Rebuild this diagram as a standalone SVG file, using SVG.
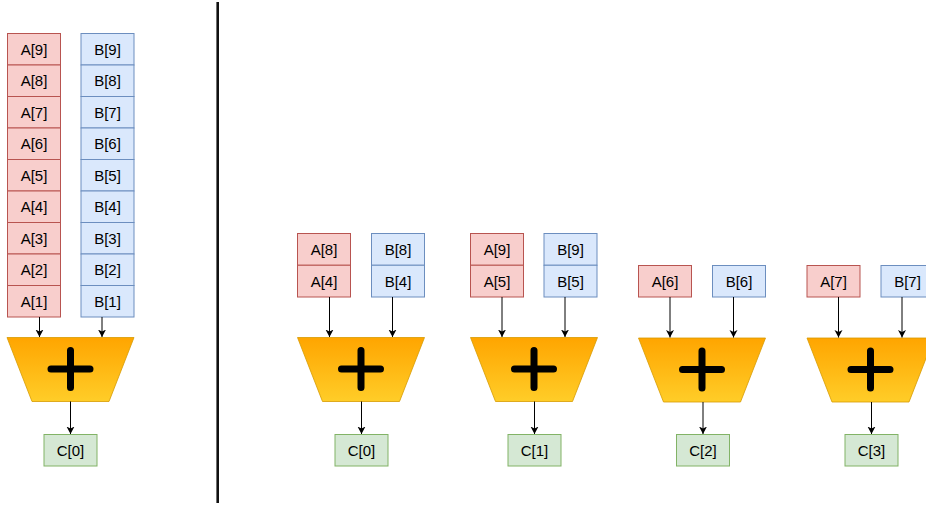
<svg xmlns="http://www.w3.org/2000/svg" width="926" height="505" viewBox="0 0 926 505">
  <defs>
    <linearGradient id="adderFill" x1="0" y1="0" x2="0" y2="1">
      <stop offset="0" stop-color="#ffa500"/>
      <stop offset="1" stop-color="#ffcd28"/>
    </linearGradient>
    <marker id="arrow" markerWidth="8" markerHeight="9" refX="7.5" refY="4.5" orient="auto" markerUnits="userSpaceOnUse">
      <path d="M0,0.5 L7.5,4.5 L0,8.5 L2,4.5 Z" fill="#000"/>
    </marker>
    <!-- one adder: trapezoid body with a plus sign, origin at its top-left corner -->
    <g id="adder">
      <path d="M0,0 H127 L102,64 H25 Z" fill="url(#adderFill)" stroke="#d79b00" stroke-width="0.8"/>
      <path d="M44,31.5 H83 M63.5,13 V50" stroke="#000" stroke-width="7" stroke-linecap="round" fill="none"/>
    </g>
  </defs>
  <style>
    .a { fill: #f8cecc; stroke: #b85450; stroke-width: 1; }
    .b { fill: #dae8fc; stroke: #6c8ebf; stroke-width: 1; }
    .c { fill: #d5e8d4; stroke: #82b366; stroke-width: 1; }
    .t { font-family: "Liberation Sans", Arial, sans-serif; font-size: 15px; fill: #000; text-anchor: middle; dominant-baseline: central; }
    .w { stroke: #000; stroke-width: 1; fill: none; marker-end: url(#arrow); }
  </style>
  <rect width="926" height="505" fill="#fff"/>

  <!-- divider -->
  <line x1="217.7" y1="2" x2="217.7" y2="503" stroke="#111" stroke-width="2.6"/>

  <!-- left: full A and B columns into one adder -->
  <g id="colA">
    <rect class="a" x="7.5" y="33.5" width="53" height="31.5"/><text class="t" x="34" y="49.3">A[9]</text>
    <rect class="a" x="7.5" y="65" width="53" height="31.5"/><text class="t" x="34" y="80.8">A[8]</text>
    <rect class="a" x="7.5" y="96.5" width="53" height="31.5"/><text class="t" x="34" y="112.3">A[7]</text>
    <rect class="a" x="7.5" y="128" width="53" height="31.5"/><text class="t" x="34" y="143.8">A[6]</text>
    <rect class="a" x="7.5" y="159.5" width="53" height="31.5"/><text class="t" x="34" y="175.3">A[5]</text>
    <rect class="a" x="7.5" y="191" width="53" height="31.5"/><text class="t" x="34" y="206.8">A[4]</text>
    <rect class="a" x="7.5" y="222.5" width="53" height="31.5"/><text class="t" x="34" y="238.3">A[3]</text>
    <rect class="a" x="7.5" y="254" width="53" height="31.5"/><text class="t" x="34" y="269.8">A[2]</text>
    <rect class="a" x="7.5" y="285.5" width="53" height="31.5"/><text class="t" x="34" y="301.3">A[1]</text>
  </g>
  <g id="colB">
    <rect class="b" x="81" y="33.5" width="53" height="31.5"/><text class="t" x="107.5" y="49.3">B[9]</text>
    <rect class="b" x="81" y="65" width="53" height="31.5"/><text class="t" x="107.5" y="80.8">B[8]</text>
    <rect class="b" x="81" y="96.5" width="53" height="31.5"/><text class="t" x="107.5" y="112.3">B[7]</text>
    <rect class="b" x="81" y="128" width="53" height="31.5"/><text class="t" x="107.5" y="143.8">B[6]</text>
    <rect class="b" x="81" y="159.5" width="53" height="31.5"/><text class="t" x="107.5" y="175.3">B[5]</text>
    <rect class="b" x="81" y="191" width="53" height="31.5"/><text class="t" x="107.5" y="206.8">B[4]</text>
    <rect class="b" x="81" y="222.5" width="53" height="31.5"/><text class="t" x="107.5" y="238.3">B[3]</text>
    <rect class="b" x="81" y="254" width="53" height="31.5"/><text class="t" x="107.5" y="269.8">B[2]</text>
    <rect class="b" x="81" y="285.5" width="53" height="31.5"/><text class="t" x="107.5" y="301.3">B[1]</text>
  </g>
  <g id="adder0"><use href="#adder" x="7" y="337.5"/></g>
  <g id="out0"><rect class="c" x="44" y="434.5" width="53" height="31.5"/><text class="t" x="70.5" y="450.3">C[0]</text></g>

  <!-- right: parallel lanes -->
  <g id="lane1A"><rect class="a" x="297.5" y="233.5" width="53" height="31.75"/><text class="t" x="324" y="249.4">A[8]</text>
    <rect class="a" x="297.5" y="265.25" width="53" height="31.75"/><text class="t" x="324" y="281.1">A[4]</text></g>
  <g id="lane1B"><rect class="b" x="371.5" y="233.5" width="53" height="31.75"/><text class="t" x="398" y="249.4">B[8]</text>
    <rect class="b" x="371.5" y="265.25" width="53" height="31.75"/><text class="t" x="398" y="281.1">B[4]</text></g>
  <g id="adder1"><use href="#adder" x="297.5" y="337.5"/></g>
  <g id="out1"><rect class="c" x="335" y="434.5" width="53" height="31.5"/><text class="t" x="361.5" y="450.3">C[0]</text></g>

  <g id="lane2A"><rect class="a" x="470.5" y="233.5" width="53" height="31.75"/><text class="t" x="497" y="249.4">A[9]</text>
    <rect class="a" x="470.5" y="265.25" width="53" height="31.75"/><text class="t" x="497" y="281.1">A[5]</text></g>
  <g id="lane2B"><rect class="b" x="544" y="233.5" width="53" height="31.75"/><text class="t" x="570.5" y="249.4">B[9]</text>
    <rect class="b" x="544" y="265.25" width="53" height="31.75"/><text class="t" x="570.5" y="281.1">B[5]</text></g>
  <g id="adder2"><use href="#adder" x="470.5" y="337.5"/></g>
  <g id="out2"><rect class="c" x="508" y="434.5" width="53" height="31.5"/><text class="t" x="534.5" y="450.3">C[1]</text></g>

  <g id="lane3A"><rect class="a" x="638.5" y="265.5" width="53" height="31.5"/><text class="t" x="665" y="281.3">A[6]</text></g>
  <g id="lane3B"><rect class="b" x="712.5" y="265.5" width="53" height="31.5"/><text class="t" x="739" y="281.3">B[6]</text></g>
  <g id="adder3"><use href="#adder" x="638.5" y="338"/></g>
  <g id="out3"><rect class="c" x="676.5" y="434.5" width="53" height="31.5"/><text class="t" x="703" y="450.3">C[2]</text></g>

  <g id="lane4A"><rect class="a" x="807" y="265.5" width="53" height="31.5"/><text class="t" x="833.5" y="281.3">A[7]</text></g>
  <g id="lane4B"><rect class="b" x="881" y="265.5" width="53" height="31.5"/><text class="t" x="907.5" y="281.3">B[7]</text></g>
  <g id="adder4"><use href="#adder" x="807" y="338"/></g>
  <g id="out4"><rect class="c" x="845" y="434.5" width="53" height="31.5"/><text class="t" x="871.5" y="450.3">C[3]</text></g>

  <!-- connectors -->
  <g id="connectors">
    <line class="w" x1="39.5" y1="317" x2="39.5" y2="337"/>
    <line class="w" x1="102" y1="317" x2="102" y2="337"/>
    <line class="w" x1="70.5" y1="401.5" x2="70.5" y2="434"/>

    <line class="w" x1="329.5" y1="297" x2="329.5" y2="337"/>
    <line class="w" x1="392.5" y1="297" x2="392.5" y2="337"/>
    <line class="w" x1="361.5" y1="401.5" x2="361.5" y2="434"/>

    <line class="w" x1="502" y1="297" x2="502" y2="337"/>
    <line class="w" x1="565" y1="297" x2="565" y2="337"/>
    <line class="w" x1="534.5" y1="401.5" x2="534.5" y2="434"/>

    <line class="w" x1="670" y1="297" x2="670" y2="337.5"/>
    <line class="w" x1="733.5" y1="297" x2="733.5" y2="337.5"/>
    <line class="w" x1="703" y1="402" x2="703" y2="434"/>

    <line class="w" x1="838.5" y1="297" x2="838.5" y2="337.5"/>
    <line class="w" x1="902" y1="297" x2="902" y2="337.5"/>
    <line class="w" x1="871.5" y1="402" x2="871.5" y2="434"/>
  </g>
</svg>
